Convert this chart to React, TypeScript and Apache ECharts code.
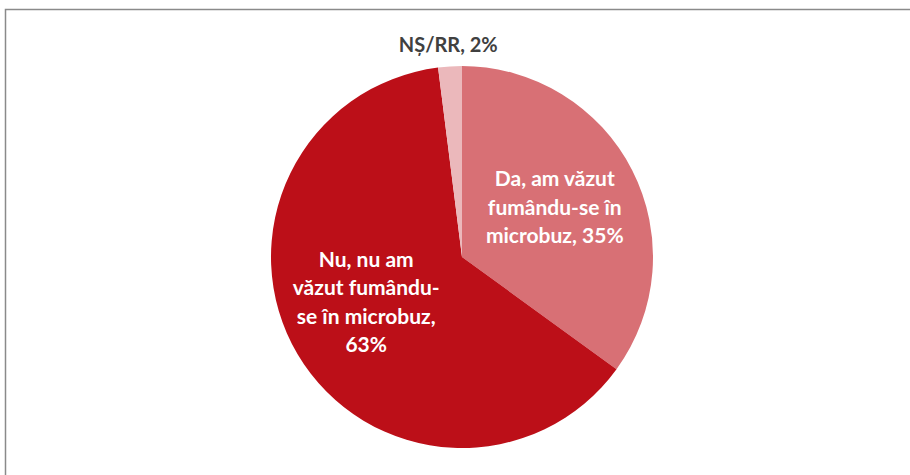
import React, { useEffect, useRef } from "react";
import * as echarts from "echarts";

const categories = [
  "Da, am văzut fumându-se în microbuz",
  "Nu, nu am văzut fumându-se în microbuz",
  "NȘ/RR",
];
const values = [35, 63, 2];
const labelTexts = [
  "Da, am văzut\nfumându-se în\nmicrobuz, 35%",
  "Nu, nu am\nvăzut fumându-\nse în microbuz,\n63%",
  "NȘ/RR, 2%",
];
const colors = ["#D87075", "#BC0F18", "#EBB8BB"];

export default function App() {
  const ref = useRef<HTMLDivElement>(null);
  useEffect(() => {
    if (!ref.current) return;
    const chart = echarts.init(ref.current, undefined, { renderer: "svg" });
    const data = categories.map((name, i) => {
      const item: any = {
        name,
        value: values[i],
        itemStyle: { color: colors[i] },
      };
      if (i === 2) {
        item.label = {
          position: "outside",
          color: "#404040",
          fontSize: 20,
          offset: [53, -18],
        };
        item.labelLine = { show: false, length: 4, length2: 0 };
      } else if (i === 0) {
        item.label = { position: "inside", offset: [5, -6] };
      } else {
        item.label = { position: "inside", offset: [-11, -6] };
      }
      return item;
    });
    chart.setOption({
      animation: false,
      graphic: [
        {
          type: "rect",
          shape: { x: 5.5, y: 9.5, width: 940, height: 500 },
          style: { fill: "none", stroke: "#8a8a8a", lineWidth: 1.5 },
          silent: true,
        },
      ],
      series: [
        {
          type: "pie",
          center: [462, 257],
          radius: 191,
          startAngle: 90,
          clockwise: true,
          data,
          label: {
            show: true,
            formatter: (p: any) => labelTexts[p.dataIndex],
            color: "#ffffff",
            fontFamily: "Lato",
            fontWeight: "bold",
            fontSize: 21,
            lineHeight: 28.5,
            align: "center",
          },
          labelLine: { show: false },
          emphasis: { disabled: true },
        },
      ],
    });
    return () => chart.dispose();
  }, []);
  return (
    <div
      ref={ref}
      style={{ position: "fixed", left: 0, top: 0, width: 910, height: 475, background: "#fff" }}
    />
  );
}
